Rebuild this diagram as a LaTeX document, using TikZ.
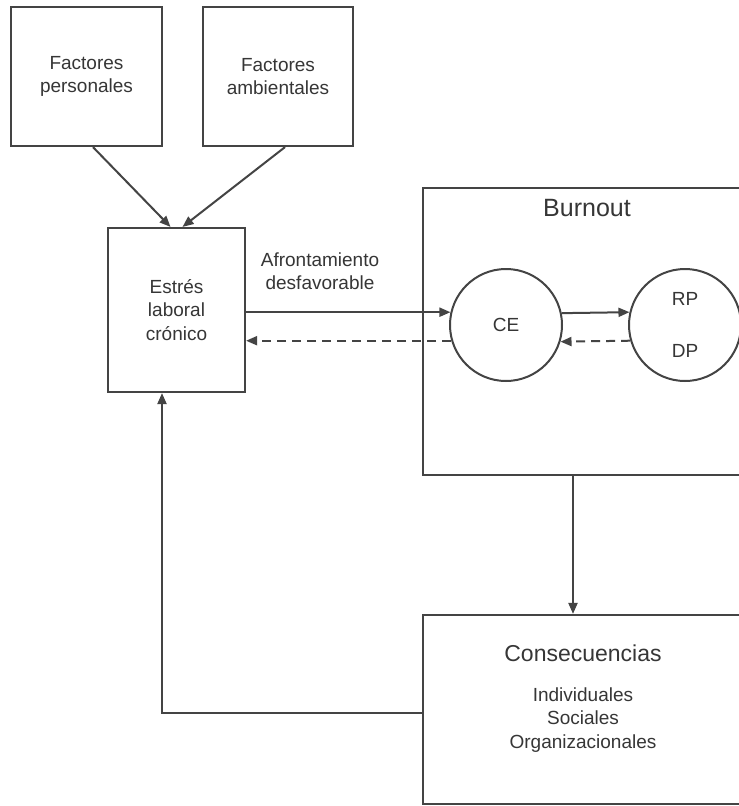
\documentclass[tikz,border=0pt]{standalone}
\usepackage{fontspec}
\setmainfont{Liberation Sans}
\usetikzlibrary{arrows.meta}
\definecolor{ln}{HTML}{444444}
\definecolor{tx}{HTML}{363636}
\begin{document}
\begin{tikzpicture}[x=1pt,y=-1pt,
  box/.style={draw=ln,line width=2.2pt,fill=white,minimum width=#1,inner sep=0pt,align=center,text=tx,font=\fontsize{19}{23.5}\selectfont},
  circ/.style={draw=ln,line width=2pt,circle,minimum size=112pt,inner sep=0pt,text=tx,font=\fontsize{19}{23.5}\selectfont,align=center},
  conn/.style={draw=ln,line width=2pt,-{Triangle[length=11pt,width=9pt]}},
  dconn/.style={conn,dash pattern=on 9pt off 6pt},
  lbl/.style={text=tx,align=center,inner sep=0pt}]
\clip (0,0) rectangle (739,806);
\fill[white] (0,0) rectangle (739,806);
% boxes
\node[box=151pt,minimum height=139pt] (fp) at (86.5,76.5) {Factores\\personales};
\node[box=150pt,minimum height=139pt] (fa) at (278,76.5) {Factores\\ambientales};
\node[box=137pt,minimum height=164pt] (est) at (176.5,310) {Estrés\\laboral\\crónico};
\node[box=337pt,minimum height=287pt] (burn) at (591.5,331.5) {};
\node[lbl,font=\fontsize{25}{30}\selectfont] (burnt) at (587,208) {Burnout};
\node[box=337pt,minimum height=189pt] (cons) at (591.5,709.5) {};
\node[lbl,font=\fontsize{23}{28}\selectfont] (const) at (583,653) {Consecuencias};
\node[lbl,font=\fontsize{19}{23.3}\selectfont] (consl) at (583,720) {Individuales\\Sociales\\Organizacionales};
% circles
\node[circ] (ce) at (506,325) {CE};
\node[circ] (rp) at (685,325) {RP\\[28pt]DP};
% label
\node[lbl,font=\fontsize{19}{23.5}\selectfont] (afr) at (320,271) {Afrontamiento\\desfavorable};
% connectors
\draw[conn] ([xshift=6.5pt]fp.south) -- ([xshift=-6pt]est.north);
\draw[conn] ([xshift=7pt]fa.south) -- ([xshift=6pt]est.north);
\draw[conn] (est.east |- ce.167.6) -- (ce.167.6);
\draw[dconn] (ce.196.6) -- (est.east |- ce.196.6);
\draw[conn] (ce.12.4) -- (rp.167.6);
\draw[dconn] (rp.196.6) -- (ce.343.4);
\draw[conn] ([xshift=-18.5pt]burn.south) -- ([xshift=-18.5pt]cons.north);
\draw[conn] ([yshift=-3pt]cons.west) -| ([xshift=-14.5pt]est.south);
\end{tikzpicture}
\end{document}
